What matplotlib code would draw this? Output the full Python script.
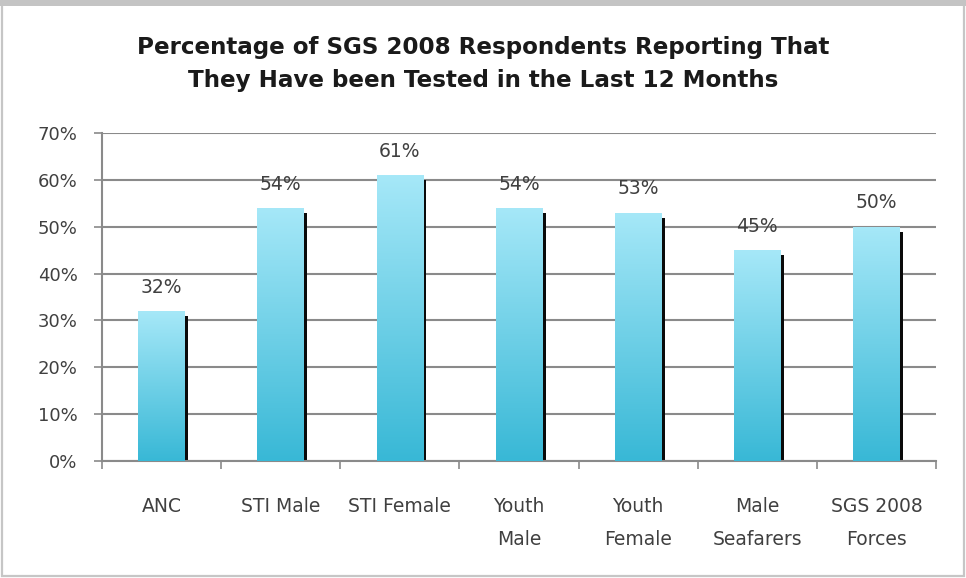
import matplotlib
matplotlib.use("Agg")
import matplotlib.pyplot as plt
import numpy as np
from matplotlib.colors import LinearSegmentedColormap
from matplotlib.patches import Rectangle

categories = ["ANC", "STI Male", "STI Female", "Youth\nMale", "Youth\nFemale",
              "Male\nSeafarers", "SGS 2008\nForces"]
values = [32, 54, 61, 54, 53, 45, 50]
y_ticks = [0, 10, 20, 30, 40, 50, 60, 70]
title = "Percentage of SGS 2008 Respondents Reporting That\nThey Have been Tested in the Last 12 Months"

plt.rcParams["font.family"] = ["DejaVu Sans"]

fig = plt.figure(figsize=(9.66, 5.78), dpi=100)
ax = fig.add_axes([0.1056, 0.2024, 0.8634, 0.5675])

x = np.arange(len(categories))
width = 0.39
grad = LinearSegmentedColormap.from_list("bar", ["#38b8d6", "#a6e8f8"])
gradient = np.linspace(0, 1, 256).reshape(-1, 1)

# black shadow strip on the right of each bar
ax.bar(x + width / 2 + 0.012, np.array(values) - 1.1, width=0.032, color="#0a0a0a", zorder=2)
bars = ax.bar(x, values, width=width, color="none", zorder=3)
for bar in bars:
    x0, w, h = bar.get_x(), bar.get_width(), bar.get_height()
    im = ax.imshow(gradient, extent=(x0, x0 + w, 0, h), origin="lower", cmap=grad,
                   aspect="auto", zorder=3)
    im.set_clip_path(bar)

for xi, v in zip(x, values):
    ax.text(xi, v + 5.1, f"{v}%", ha="center", va="center", fontsize=13.5, color="#404040")

ax.set_xlim(-0.5, len(categories) - 0.5)
ax.set_ylim(0, 70)
ax.set_yticks(y_ticks)
ax.set_yticklabels([f"{t}%" for t in y_ticks])
ax.set_xticks(x)
ax.set_xticklabels(categories, linespacing=1.9)
ax.set_xticks(np.arange(len(categories) + 1) - 0.5, minor=True)
ax.tick_params(axis="x", which="major", length=0, pad=26, labelsize=13.5, colors="#404040")
ax.tick_params(axis="x", which="minor", length=5.5, color="#8a8a8a", width=1.2)
ax.tick_params(axis="y", length=5.5, color="#8a8a8a", width=1.2, labelsize=13,
               labelcolor="#404040", pad=12)
ax.yaxis.grid(True, color="#8a8a8a", linewidth=1.5, zorder=0)
ax.set_axisbelow(True)
for side in ["top", "right"]:
    ax.spines[side].set_visible(False)
for side in ["left", "bottom"]:
    ax.spines[side].set_color("#8a8a8a")
    ax.spines[side].set_linewidth(1.5)

fig.text(0.5, 0.889, title, ha="center", va="center", fontsize=16.6, fontweight="bold",
         color="#1a1a1a", linespacing=1.55)

fig.patches.append(Rectangle((0.002, 0.003), 0.996, 0.99, transform=fig.transFigure,
                             fill=False, edgecolor="#c6c6c6", linewidth=1.6))
fig.patches.append(Rectangle((0, 0.99), 1, 0.01, transform=fig.transFigure,
                             color="#c4c4c4", linewidth=0))

fig.savefig("out.png", dpi=100)
